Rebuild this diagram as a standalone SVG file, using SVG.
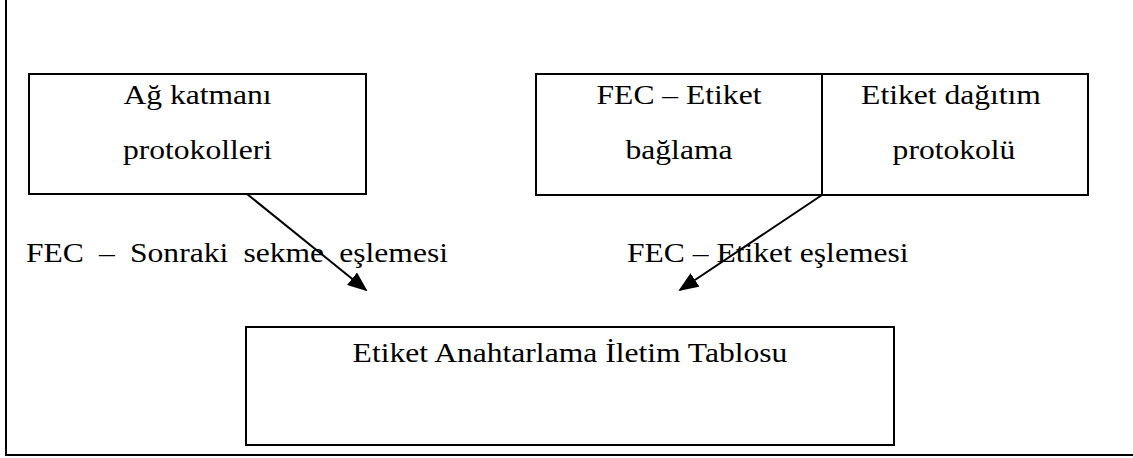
<svg xmlns="http://www.w3.org/2000/svg" width="1133" height="458" viewBox="0 0 1133 458">
  <style>
    .box { fill: #ffffff; stroke: #000000; stroke-width: 2; }
    .frame { fill: none; stroke: #000000; stroke-width: 2; }
    .lbl { font-family: "Liberation Serif", "Times New Roman", serif; font-size: 27px; fill: #000000; }
    .mid { text-anchor: middle; }
    .wide { word-spacing: 6.2px; }
    .conn { stroke: #000000; stroke-width: 2; fill: none; marker-end: url(#head); }
  </style>
  <defs>
    <marker id="head" markerWidth="10" markerHeight="8" refX="9" refY="4" orient="auto" markerUnits="strokeWidth">
      <path d="M0,0 L10,4 L0,8 Z" fill="#000000"/>
    </marker>
  </defs>
  <rect width="1133" height="458" fill="#ffffff"/>

  <!-- page frame: left and bottom rules -->
  <path class="frame" d="M6,0 V455 H1133"/>

  <g id="network-layer">
    <rect class="box" x="29" y="74" width="337" height="120"/>
    <text class="lbl mid" transform="translate(197.5,104) scale(1.17,1)">Ağ katmanı</text>
    <text class="lbl mid" transform="translate(197.5,159) scale(1.17,1)">protokolleri</text>
  </g>

  <g id="fec-binding">
    <rect class="box" x="536" y="74" width="286" height="121"/>
    <text class="lbl mid" transform="translate(679,104) scale(1.17,1)">FEC – Etiket</text>
    <text class="lbl mid" transform="translate(679,159) scale(1.17,1)">bağlama</text>
  </g>

  <g id="label-distribution">
    <rect class="box" x="822" y="74" width="266" height="121"/>
    <text class="lbl mid" transform="translate(951,104) scale(1.17,1)">Etiket dağıtım</text>
    <text class="lbl mid" transform="translate(954,159) scale(1.17,1)">protokolü</text>
  </g>

  <g id="lfib">
    <rect class="box" x="246" y="327" width="648" height="118"/>
    <text class="lbl mid" transform="translate(570,362) scale(1.17,1)">Etiket Anahtarlama İletim Tablosu</text>
  </g>

  <g id="connectors">
    <line class="conn" x1="247" y1="194" x2="366" y2="290"/>
    <line class="conn" x1="822" y1="195" x2="680" y2="290"/>
  </g>

  <g id="connector-labels">
    <text class="lbl wide" transform="translate(26,262) scale(1.17,1)">FEC – Sonraki sekme eşlemesi</text>
    <text class="lbl" transform="translate(627,262) scale(1.17,1)">FEC – Etiket eşlemesi</text>
  </g>
</svg>
